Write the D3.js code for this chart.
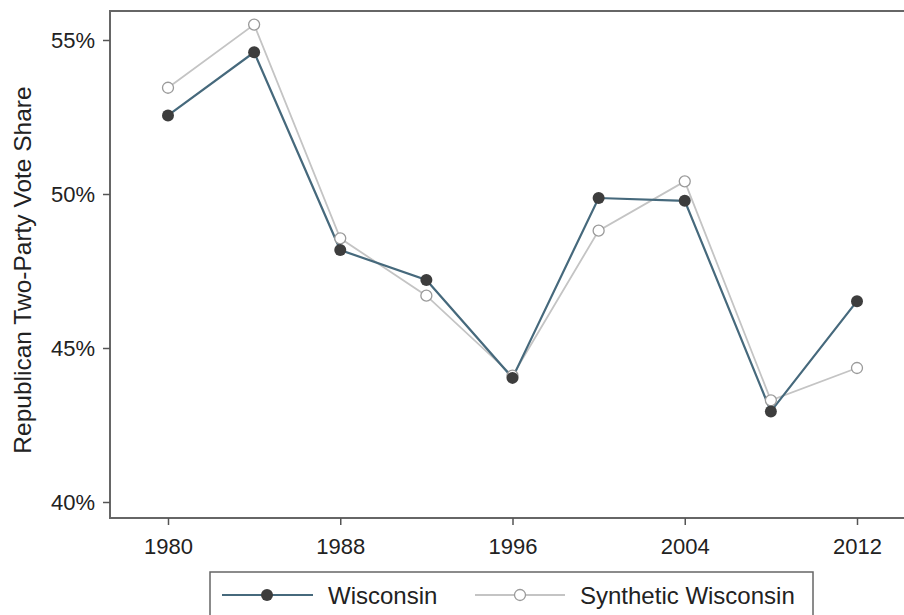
<!DOCTYPE html>
<html>
<head>
<meta charset="utf-8">
<script src="https://cdn.jsdelivr.net/npm/d3@7"></script>
<style>
  body { margin: 0; background: #fff; }
  svg { display: block; font-family: "Liberation Sans", Arial, sans-serif; }
  .axis text { font-size: 22px; fill: #222; }
  .axis path, .axis line { stroke: #555; }
</style>
</head>
<body>
<svg class="chart" width="904" height="615"></svg>
<script>
// election years
let years = [1980, 1984, 1988, 1992, 1996, 2000, 2004, 2008, 2012];
// republican two-party vote share (%)
let wisconsin = [52.55, 54.6, 48.18, 47.21, 44.03, 49.87, 49.78, 42.94, 46.52];
let synthetic = [53.45, 55.5, 48.56, 46.7, 44.1, 48.81, 50.41, 43.3, 44.35];
let xTicks = [1980, 1988, 1996, 2004, 2012];
let yTicks = [40, 45, 50, 55];

let svg = d3.select("body").select(".chart");

// plot frame
let frame = { left: 110, top: 11, right: 906, bottom: 518 };

let xScale = d3.scaleLinear()
  .domain([1980, 2012])
  .range([168, 857]);
let yScale = d3.scaleLinear()
  .domain([40, 55])
  .range([502, 40]);

// box round the plot
svg.append("rect")
  .attr("x", frame.left)
  .attr("y", frame.top)
  .attr("width", frame.right - frame.left)
  .attr("height", frame.bottom - frame.top)
  .attr("fill", "none")
  .attr("stroke", "#666")
  .attr("stroke-width", 2);

// axes
let xAxis = d3.axisBottom(xScale).tickValues(xTicks).tickFormat(d3.format("d"))
  .tickSize(7).tickPadding(13).tickSizeOuter(0);
let yAxis = d3.axisLeft(yScale).tickValues(yTicks).tickFormat(d => d + "%")
  .tickSize(7).tickPadding(8).tickSizeOuter(0);

let xGroup = svg.append("g").attr("class", "axis")
  .attr("transform", translate(0, frame.bottom))
  .call(xAxis);
xGroup.select(".domain").remove();
xGroup.selectAll("line").attr("stroke-width", 1.5);

let yGroup = svg.append("g").attr("class", "axis")
  .attr("transform", translate(frame.left, 0))
  .call(yAxis);
yGroup.select(".domain").remove();
yGroup.selectAll("line").attr("stroke-width", 1.5);

// y label
svg.append("text")
  .attr("transform", "rotate(-90)")
  .attr("x", -270)
  .attr("y", 31)
  .attr("text-anchor", "middle")
  .style("font-size", "24.5px")
  .style("fill", "#222")
  .text("Republican Two-Party Vote Share");

let line = d3.line()
  .x((d, i) => xScale(years[i]))
  .y(d => yScale(d));

// synthetic series (behind)
svg.append("path")
  .datum(synthetic)
  .attr("fill", "none")
  .attr("stroke", "#c4c4c4")
  .attr("stroke-width", 1.8)
  .attr("d", line);

// wisconsin series
svg.append("path")
  .datum(wisconsin)
  .attr("fill", "none")
  .attr("stroke", "#46697c")
  .attr("stroke-width", 2.2)
  .attr("d", line);

svg.selectAll(".synth-dot")
  .data(synthetic)
  .enter().append("circle")
  .attr("class", "synth-dot")
  .attr("cx", (d, i) => xScale(years[i]))
  .attr("cy", d => yScale(d))
  .attr("r", 5.5)
  .attr("fill", "#fff")
  .attr("stroke", "#9a9a9a")
  .attr("stroke-width", 1.3);

svg.selectAll(".wi-dot")
  .data(wisconsin)
  .enter().append("circle")
  .attr("class", "wi-dot")
  .attr("cx", (d, i) => xScale(years[i]))
  .attr("cy", d => yScale(d))
  .attr("r", 6)
  .attr("fill", "#3d3d3d");

// legend
let legend = svg.append("g");
legend.append("rect")
  .attr("x", 210)
  .attr("y", 572)
  .attr("width", 603)
  .attr("height", 60)
  .attr("fill", "#fff")
  .attr("stroke", "#666")
  .attr("stroke-width", 1.5);

legend.append("line")
  .attr("x1", 222).attr("x2", 313).attr("y1", 595).attr("y2", 595)
  .attr("stroke", "#46697c").attr("stroke-width", 2.2);
legend.append("circle")
  .attr("cx", 267).attr("cy", 595).attr("r", 6).attr("fill", "#3d3d3d");
legend.append("text")
  .attr("x", 328).attr("y", 604)
  .style("font-size", "24px").style("fill", "#222")
  .text("Wisconsin");

legend.append("line")
  .attr("x1", 475).attr("x2", 565).attr("y1", 595).attr("y2", 595)
  .attr("stroke", "#c4c4c4").attr("stroke-width", 1.8);
legend.append("circle")
  .attr("cx", 520).attr("cy", 595).attr("r", 5.5)
  .attr("fill", "#fff").attr("stroke", "#9a9a9a").attr("stroke-width", 1.3);
legend.append("text")
  .attr("x", 580).attr("y", 604)
  .style("font-size", "24px").style("fill", "#222")
  .text("Synthetic Wisconsin");

function translate(x, y) {
  return 'translate(' + x + ',' + y + ')';
}
</script>
</body>
</html>
